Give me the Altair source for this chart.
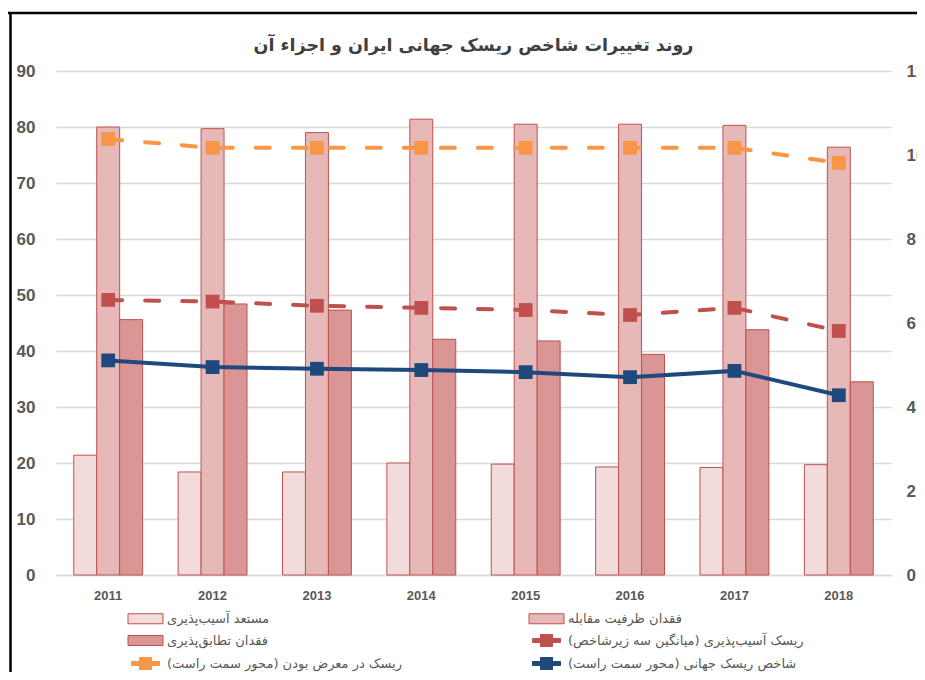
import altair as alt
import pandas as pd

years = ["2011", "2012", "2013", "2014", "2015", "2016", "2017", "2018"]
susceptibility = [21.4, 18.4, 18.4, 20.0, 19.8, 19.3, 19.2, 19.7]
coping = [80.0, 79.7, 79.0, 81.4, 80.5, 80.5, 80.3, 76.4]
adaptive = [45.6, 48.4, 47.3, 42.1, 41.8, 39.4, 43.8, 34.5]
vulnerability = [6.55, 6.51, 6.41, 6.36, 6.31, 6.19, 6.36, 5.81]
exposure = [10.38, 10.17, 10.17, 10.17, 10.17, 10.17, 10.17, 9.81]
wri = [5.11, 4.95, 4.91, 4.88, 4.83, 4.71, 4.86, 4.28]

names = [
    "مستعد آسیب‌پذیری",
    "فقدان ظرفیت مقابله",
    "فقدان تطابق‌پذیری",
    "ریسک آسیب‌پذیری (میانگین سه زیرشاخص)\u200f",
    "ریسک در معرض بودن (محور سمت راست)\u200f",
    "شاخص ریسک جهانی (محور سمت راست)\u200f",
]
title_text = "روند تغییرات شاخص ریسک جهانی ایران و اجزاء آن"

fills = ["#f2dcdb", "#e6b9b8", "#d99694", "#c0504d", "#f79646", "#1f497d"]
strokes = ["#c0504d", "#c0504d", "#c0504d", "#c0504d", "#f79646", "#1f497d"]
rect_sym = "M-3.5,-1H3.5V1H-3.5Z"
line_sym = "M-2.8,-0.4H2.8V0.4H-2.8Z M-1.2,-1.2H1.2V1.2H-1.2Z"
shapes = [rect_sym] * 3 + [line_sym] * 3

bar_rows = []
for i, y in enumerate(years):
    for s, vals in zip(names[:3], [susceptibility, coping, adaptive]):
        bar_rows.append({"year": y, "series": s, "value": vals[i]})
bars_df = pd.DataFrame(bar_rows)

line_rows = []
for i, y in enumerate(years):
    for s, vals in zip(names[3:], [vulnerability, exposure, wri]):
        line_rows.append({"year": y, "series": s, "value": vals[i]})
lines_df = pd.DataFrame(line_rows)

GRAY = "#595959"
leg = alt.Legend(
    title=None, orient="none", legendX=83, legendY=541, columns=2,
    direction="horizontal",
    columnPadding=125, rowPadding=6, padding=0,
    symbolSize=100, symbolStrokeWidth=1, symbolOpacity=1,
    labelOffset=15, labelFont="DejaVu Sans", labelFontSize=13,
    labelColor=GRAY, labelLimit=400,
)
fill_scale = alt.Scale(domain=names, range=fills)
stroke_scale = alt.Scale(domain=names, range=strokes)
shape_scale = alt.Scale(domain=names, range=shapes)

x_enc = alt.X(
    "year:N", sort=years,
    scale=alt.Scale(paddingInner=0.34, paddingOuter=0.17),
    axis=alt.Axis(title=None, labelAngle=0, labelFont="Liberation Sans",
                  labelFontWeight="bold", labelFontSize=13, labelColor=GRAY,
                  ticks=False, domainColor="#d9d9d9", domainWidth=1.5,
                  labelPadding=14),
)

bars = alt.Chart(bars_df).mark_bar(strokeWidth=1).encode(
    x=x_enc,
    xOffset=alt.XOffset("series:N", sort=names[:3],
                        scale=alt.Scale(domain=names[:3], paddingInner=0, paddingOuter=0)),
    y=alt.Y("value:Q", scale=alt.Scale(domain=[0, 90], nice=False),
            axis=alt.Axis(title=None, values=list(range(0, 91, 10)), grid=True,
                          gridColor="#d9d9d9", gridWidth=1.5, domain=False, ticks=False,
                          labelFont="Liberation Sans", labelFontWeight="bold",
                          labelFontSize=17, labelColor=GRAY, labelPadding=21)),
    fill=alt.Fill("series:N", scale=fill_scale, legend=leg),
    stroke=alt.Stroke("series:N", scale=stroke_scale, legend=leg),
)

y_right = alt.Y("value:Q", scale=alt.Scale(domain=[0, 12], nice=False),
                axis=alt.Axis(orient="right", title=None, values=list(range(0, 13, 2)),
                              grid=False, domain=False, ticks=False,
                              labelFont="Liberation Sans", labelFontWeight="bold",
                              labelFontSize=17, labelColor=GRAY, labelPadding=15,
                              labelAlign="left"))

base = alt.Chart(lines_df)
dashed = base.transform_filter(alt.datum.series != names[5]).mark_line(
    strokeWidth=4, strokeDash=[14, 23], strokeCap="round"
).encode(x=alt.X("year:N", sort=years), y=y_right,
         stroke=alt.Stroke("series:N", scale=stroke_scale, legend=leg))
solid = base.transform_filter(alt.datum.series == names[5]).mark_line(
    strokeWidth=4
).encode(x=alt.X("year:N", sort=years), y=y_right,
         stroke=alt.Stroke("series:N", scale=stroke_scale, legend=leg))
points = base.mark_square(size=190, opacity=1, filled=True).encode(
    x=alt.X("year:N", sort=years), y=y_right,
    fill=alt.Fill("series:N", scale=fill_scale, legend=leg),
)
legend_layer = base.mark_point(opacity=0, filled=True).encode(
    x=alt.X("year:N", sort=years), y=y_right,
    shape=alt.Shape("series:N", scale=shape_scale, legend=leg),
)

right = alt.layer(dashed, solid, points, legend_layer)

frame_top = alt.Chart(pd.DataFrame({"k": [0]})).mark_rule(color="black", strokeWidth=2.5).encode(
    x=alt.value(-51), x2=alt.value(900), y=alt.value(-58))
frame_left = alt.Chart(pd.DataFrame({"k": [0]})).mark_rule(color="black", strokeWidth=2.5).encode(
    x=alt.value(-45.5), y=alt.value(-59), y2=alt.value(620))

chart = alt.layer(bars, right, frame_top, frame_left).resolve_scale(
    y="independent"
).properties(
    width=835, height=504,
    autosize=alt.AutoSizeParams(type="none"),
    padding={"left": 48, "right": 26, "top": 63, "bottom": 97},
    title=alt.TitleParams(title_text, font="DejaVu Sans", fontSize=17.5,
                          fontWeight="bold", color="#404040", anchor="middle",
                          baseline="alphabetic", offset=-58),
).configure_view(stroke=None)

chart.save("out.html", embed_options={"renderer": "svg", "actions": False})
